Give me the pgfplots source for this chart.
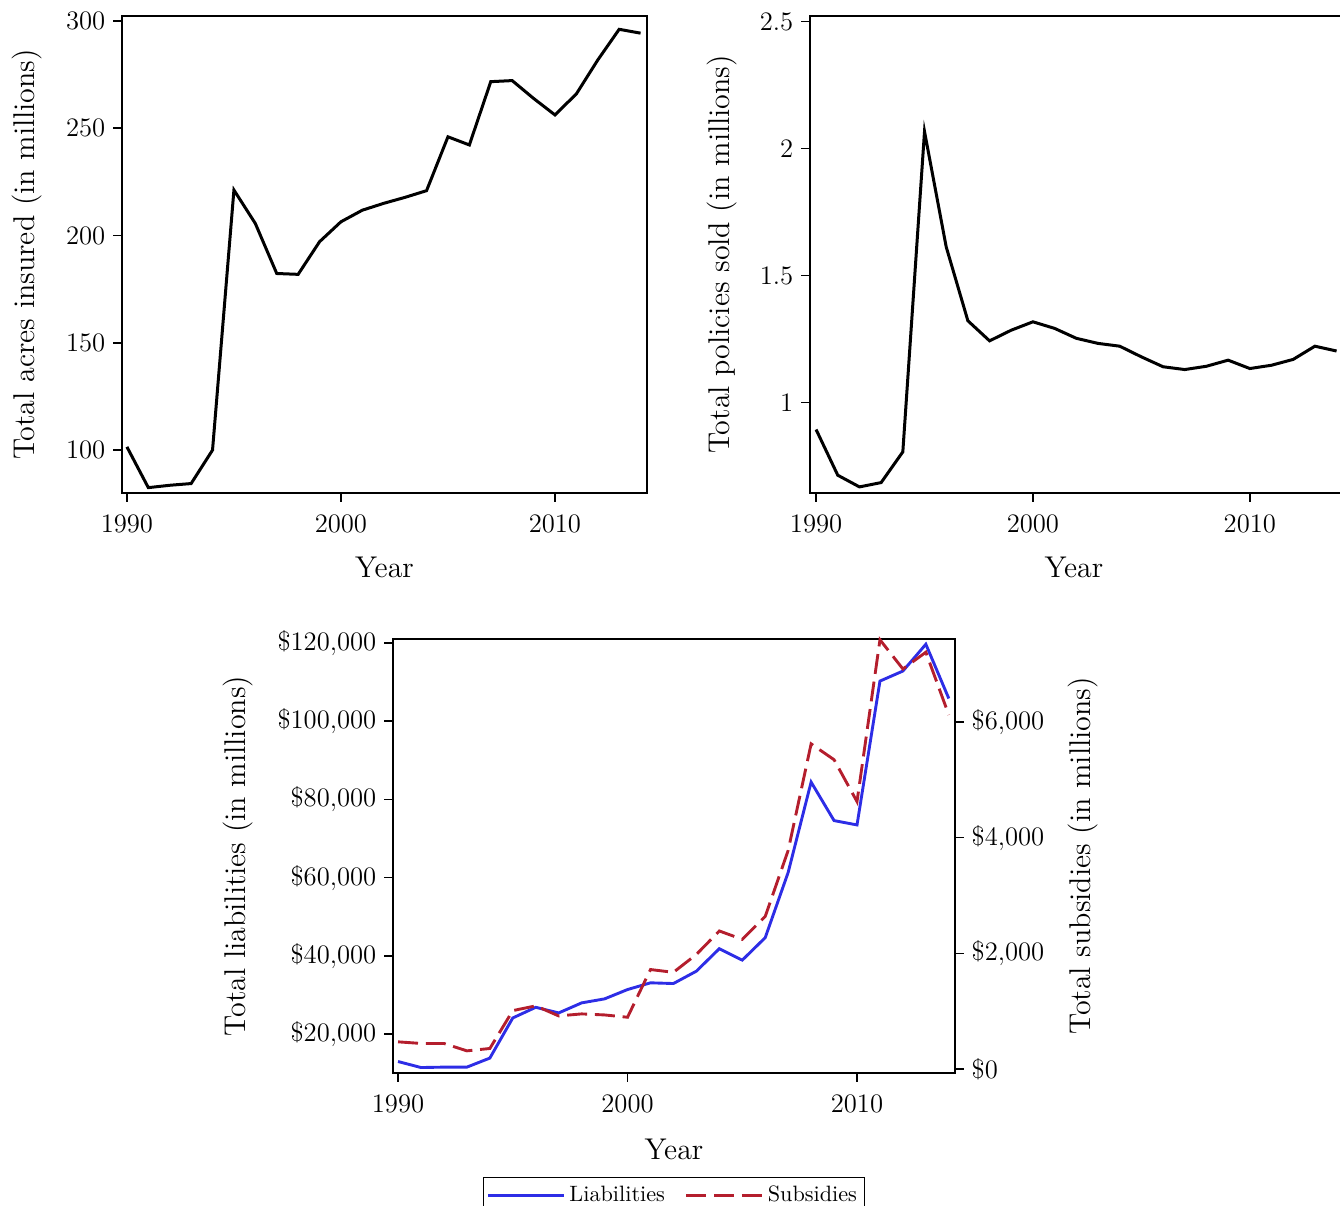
\documentclass[border=0pt]{standalone}
\usepackage{pgfplots}
\usepackage{pgfplotstable}
\pgfplotsset{compat=1.18}
\definecolor{liab}{RGB}{45,45,230}
\definecolor{subs}{RGB}{180,30,45}

\pgfplotstableread{
year acres
1990 101.5
1991 82.5
1992 83.6
1993 84.4
1994 100.0
1995 221.2
1996 205.6
1997 182.3
1998 181.9
1999 197.1
2000 206.4
2001 211.8
2002 215.0
2003 217.8
2004 220.9
2005 246.0
2006 242.2
2007 271.7
2008 272.2
2009 263.9
2010 256.2
2011 266.0
2012 281.8
2013 296.1
2014 294.3
}\acres

\pgfplotstableread{
year policies
1990 0.894
1991 0.714
1992 0.668
1993 0.685
1994 0.806
1995 2.067
1996 1.613
1997 1.322
1998 1.243
1999 1.285
2000 1.318
2001 1.292
2002 1.253
2003 1.233
2004 1.222
2005 1.180
2006 1.141
2007 1.130
2008 1.143
2009 1.167
2010 1.134
2011 1.147
2012 1.170
2013 1.222
2014 1.203
}\policies

\pgfplotstableread{
year liab subs
1990 12965 470
1991 11425 442
1992 11530 442
1993 11530 314
1994 13840 355
1995 24107 1010
1996 26830 1092
1997 25390 918
1998 27960 953
1999 28985 935
2000 31370 895
2001 33090 1720
2002 32910 1672
2003 36070 1981
2004 41820 2387
2005 38890 2242
2006 44640 2638
2007 61330 3780
2008 84430 5622
2009 74580 5348
2010 73470 4624
2011 110260 7422
2012 112830 6917
2013 119680 7207
2014 105810 6122
}\money

\begin{document}
\begin{tikzpicture}
\pgfplotsset{
  every axis/.append style={
    scale only axis,
    axis line style={line width=0.7pt},
    every tick/.style={line width=0.7pt, black},
    major tick length=4pt,
    tick align=outside,
    tick label style={font=\fontsize{12}{14}\selectfont},
    label style={font=\fontsize{13.5}{16}\selectfont},
    /pgf/number format/1000 sep={},
    xtick={1990,2000,2010},
    xticklabel style={yshift=-2.5pt},
    clip=false,
  },
}
% Panel A
\begin{axis}[
  at={(54.9pt,-221.85pt)}, anchor=south west,
  width=236.25pt, height=214.65pt,
  xmin=1989.77, xmax=2014.30,
  ymin=80, ymax=302.3,
  ytick={100,150,200,250,300},
  xtick pos=left, ytick pos=left,
  xlabel={Year}, ylabel={Total acres insured (in millions)},
  xlabel style={at={(axis description cs:0.5,-0.157)}, anchor=center},
  ylabel style={at={(axis description cs:-0.181,0.5)}, anchor=center},
]
\addplot[black, line width=1.35pt] table[x=year,y=acres] {\acres};
\end{axis}
% Panel B
\begin{axis}[
  at={(364.5pt,-221.85pt)}, anchor=south west,
  width=239.4pt, height=214.65pt,
  xmin=1989.72, xmax=2014.25,
  ymin=0.644, ymax=2.522,
  ytick={1,1.5,2,2.5},
  xtick pos=left, ytick pos=left,
  xlabel={Year}, ylabel={Total policies sold (in millions)},
  xlabel style={at={(axis description cs:0.496,-0.157)}, anchor=center},
  ylabel style={at={(axis description cs:-0.165,0.5)}, anchor=center},
]
\addplot[black, line width=1.35pt] table[x=year,y=policies] {\policies};
\end{axis}
% Panel C, left axis
\begin{axis}[
  at={(176.85pt,-482.85pt)}, anchor=south west,
  width=252.9pt, height=195.3pt,
  xmin=1989.78, xmax=2014.27,
  ymin=10026, ymax=121023,
  ytick={20000,40000,60000,80000,100000,120000},
  scaled y ticks=false,
  yticklabel={\$\pgfmathprintnumber[fixed,precision=0,1000 sep=\mathord{,}]{\tick}},
  xtick pos=left, ytick pos=left,
  xlabel={Year}, ylabel={Total liabilities (in millions)},
  xlabel style={at={(axis description cs:0.5,-0.177)}, anchor=center},
  ylabel style={at={(axis description cs:-0.276,0.5)}, anchor=center},
]
\addplot[liab, line width=1.3pt] table[x=year,y=liab] {\money};
\end{axis}
% Panel C, right axis
\begin{axis}[
  at={(176.85pt,-482.85pt)}, anchor=south west,
  width=252.9pt, height=195.3pt,
  xmin=1989.78, xmax=2014.27,
  ymin=-69, ymax=7435,
  axis x line=none, axis y line*=right,
  ytick={0,2000,4000,6000},
  scaled y ticks=false,
  yticklabel={\$\pgfmathprintnumber[fixed,precision=0,1000 sep=\mathord{,}]{\tick}},
  ylabel={Total subsidies (in millions)},
  ylabel style={at={(axis description cs:1.228,0.5)}, anchor=center},
  legend style={at={(axis description cs:0.5,-0.24)}, anchor=north,
    draw=black, line width=0.6pt, font=\fontsize{10}{12}\selectfont,
    inner sep=1.5pt, /tikz/every even column/.append style={column sep=7pt}},
  legend columns=2,
  legend image code/.code={\draw[#1] (0pt,0pt) -- (34pt,0pt);},
]
\addlegendimage{liab, line width=1.3pt}
\addlegendentry{Liabilities}
\addplot[subs, line width=1.3pt, dash pattern=on 9pt off 3.5pt] table[x=year,y=subs] {\money};
\addlegendentry{Subsidies}
\end{axis}
\pgfresetboundingbox
\useasboundingbox (0pt,0pt) rectangle (603pt,-542.7pt);
\end{tikzpicture}
\end{document}
